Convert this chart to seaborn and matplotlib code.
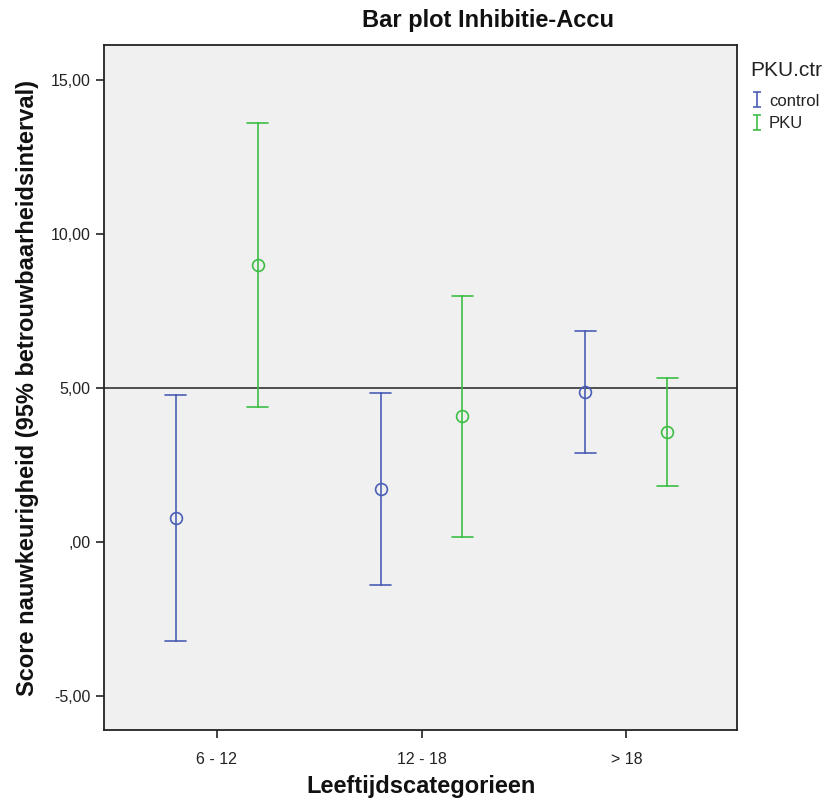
import matplotlib
matplotlib.use("Agg")
import matplotlib.pyplot as plt
import seaborn as sns
import pandas as pd
import numpy as np
from matplotlib.legend_handler import HandlerErrorbar

categories = ["6 - 12", "12 - 18", "> 18"]
groups = ["control", "PKU"]
control_mean = [0.78, 1.72, 4.87]
control_lower = [-3.21, -1.40, 2.89]
control_upper = [4.77, 4.84, 6.85]
pku_mean = [8.99, 4.09, 3.57]
pku_lower = [4.38, 0.16, 1.82]
pku_upper = [13.60, 7.99, 5.32]
reference_value = 5.0
y_ticks = [-5, 0, 5, 10, 15]
y_tick_labels = ["-5,00", ",00", "5,00", "10,00", "15,00"]
colors = {"control": "#4A5FB5", "PKU": "#3DBE45"}

rows = []
for g, means, lows, ups in [("control", control_mean, control_lower, control_upper),
                            ("PKU", pku_mean, pku_lower, pku_upper)]:
    for c, m, lo, up in zip(categories, means, lows, ups):
        for v in (lo, m, up):
            rows.append({"cat": c, "group": g, "value": v})
df = pd.DataFrame(rows)

sns.set_theme(style="ticks")
plt.rcParams['font.family'] = ['Liberation Sans', 'DejaVu Sans']

fig = plt.figure(figsize=(8.27, 8.07), dpi=100)
ax = fig.add_axes([104/827, 1-730/807, (737-104)/827, (730-45)/807])
ax.set_facecolor("#F0F0F0")

sns.pointplot(data=df, x="cat", y="value", hue="group", order=categories, hue_order=groups,
              estimator="median", errorbar=("pi", 100), dodge=0.4, linestyle="none",
              markers="o", palette=colors, capsize=0.1, err_kws={"linewidth": 1.2},
              ax=ax, legend=False)

for ln in ax.lines:
    if ln.get_marker() == "o":
        ln.set_markerfacecolor("none")
        ln.set_markersize(8.5)
        ln.set_markeredgewidth(1.2)

ax.axhline(reference_value, color="#222222", lw=1.1, zorder=1)

ax.set_xlim(-0.55, 2.54)
ax.set_ylim(-6.1, 16.14)
ax.set_yticks(y_ticks)
ax.set_yticklabels(y_tick_labels)
ax.set_xlabel("")
ax.set_ylabel("")
ax.tick_params(axis="both", direction="out", length=6, width=1.2, colors="#222222",
               labelsize=11.5, labelcolor="#222222")
ax.tick_params(axis="x", pad=10)
for s in ax.spines.values():
    s.set_visible(True)
    s.set_color("#222222")
    s.set_linewidth(1.3)

fig.text(488/827, 1-20/807, "Bar plot Inhibitie-Accu", ha="center", va="center",
         fontweight="bold", fontsize=17, color="#111111")
fig.text(421/827, 1-786/807, "Leeftijdscategorieen", ha="center", va="center",
         fontweight="bold", fontsize=17, color="#111111")
fig.text(28/827, 1-388/807, "Score nauwkeurigheid (95% betrouwbaarheidsinterval)",
         ha="center", va="center", rotation=90, fontweight="bold", fontsize=17, color="#111111")

handles = []
for g in groups:
    h = ax.errorbar([np.nan], [np.nan], yerr=[1.0], fmt="none", ecolor=colors[g],
                    elinewidth=1.2, capsize=3, capthick=1.2)
    handles.append(h)
leg = fig.legend(handles, groups, title="PKU.ctr", loc="upper left",
                 bbox_to_anchor=(744/827, 1-54/807), frameon=False, fontsize=12,
                 title_fontsize=15, handletextpad=0.3, handlelength=0.8,
                 labelspacing=0.45, borderaxespad=0,
                 handler_map={type(handles[0]): HandlerErrorbar(xerr_size=0.4, yerr_size=0.45)})
leg._legend_box.align = "left"
leg._legend_box.sep = 10
for t in leg.get_texts():
    t.set_color("#222222")
leg.get_title().set_color("#222222")

fig.savefig("out.png", dpi=100)
